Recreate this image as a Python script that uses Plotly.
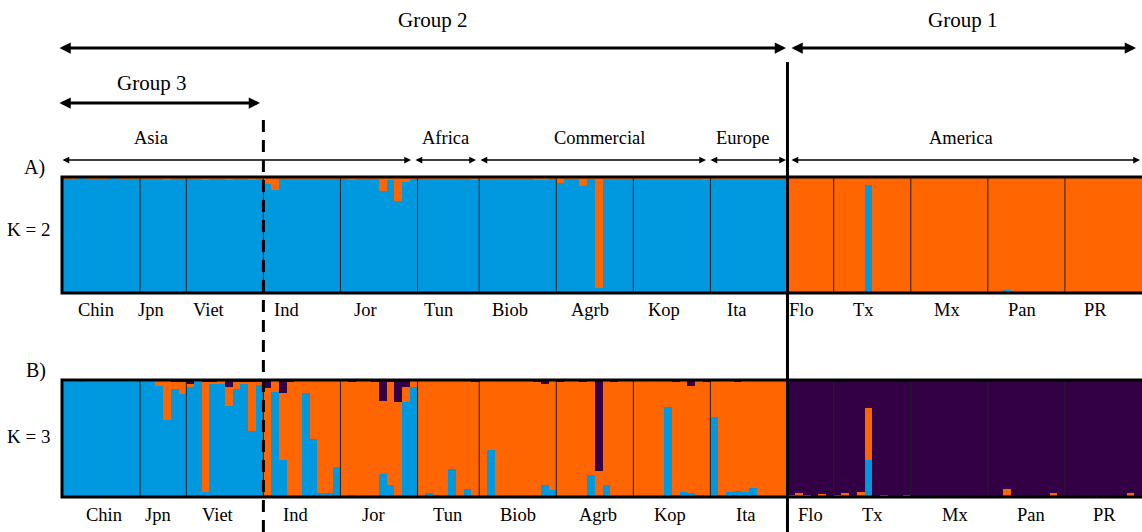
import plotly.graph_objects as go

W, H = 1142, 532

POPS = ["Chin", "Jpn", "Viet", "Ind", "Jor", "Tun", "Biob", "Agrb", "Kop", "Ita",
        "Flo", "Tx", "Mx", "Pan", "PR"]

# ---- K = 2 membership (per individual, grouped by population) ----
K2_ORANGE = [
    [0.01, 0.01, 0.00, 0.01, 0.01, 0.01, 0.00, 0.01, 0.02, 0.01],   # Chin
    [0.01, 0.01, 0.02, 0.03, 0.01, 0.02],                           # Jpn
    [0.02, 0.01, 0.03, 0.01, 0.02, 0.03, 0.01, 0.02, 0.03, 0.01],   # Viet
    [0.06, 0.11, 0.01, 0.02, 0.01, 0.01, 0.01, 0.01, 0.01, 0.01],   # Ind
    [0.01, 0.03, 0.02, 0.02, 0.01, 0.12, 0.03, 0.21, 0.04, 0.01],   # Jor
    [0.01, 0.01, 0.01, 0.01, 0.01, 0.01, 0.01, 0.03],               # Tun
    [0.01, 0.01, 0.02, 0.01, 0.01, 0.02, 0.01, 0.03, 0.03, 0.01],   # Biob
    [0.05, 0.01, 0.01, 0.08, 0.01, 0.96, 0.01, 0.02, 0.01, 0.01],   # Agrb
    [0.01, 0.02, 0.01, 0.01, 0.01, 0.01, 0.02, 0.02, 0.01, 0.03],   # Kop
    [0.01, 0.01, 0.01, 0.02, 0.01, 0.01, 0.02, 0.01, 0.01, 0.01],   # Ita
    [0.99, 0.99, 0.995, 0.99, 0.995, 0.99],                         # Flo
    [0.99, 0.985, 0.995, 0.985, 0.07, 0.995, 0.995, 0.995, 1.0, 1.0],  # Tx
    [1.0, 0.995, 1.0, 1.0, 0.995, 1.0, 0.995, 1.0, 1.0, 0.995],     # Mx
    [1.0, 0.995, 0.97, 1.0, 1.0, 0.995, 1.0, 0.995, 0.99, 1.0],     # Pan
    [1.0, 0.995, 1.0, 1.0, 0.995, 1.0, 1.0, 0.995, 0.99, 1.0],      # PR
]
K2_BLUE = [
    [0.99, 0.99, 1.00, 0.99, 0.99, 0.99, 1.00, 0.99, 0.98, 0.99],
    [0.99, 0.99, 0.98, 0.97, 0.99, 0.98],
    [0.98, 0.99, 0.97, 0.99, 0.98, 0.97, 0.99, 0.98, 0.97, 0.99],
    [0.94, 0.89, 0.99, 0.98, 0.99, 0.99, 0.99, 0.99, 0.99, 0.99],
    [0.99, 0.97, 0.98, 0.98, 0.99, 0.88, 0.97, 0.79, 0.96, 0.99],
    [0.99, 0.99, 0.99, 0.99, 0.99, 0.99, 0.99, 0.97],
    [0.99, 0.99, 0.98, 0.99, 0.99, 0.98, 0.99, 0.97, 0.97, 0.99],
    [0.95, 0.99, 0.99, 0.92, 0.99, 0.04, 0.99, 0.98, 0.99, 0.99],
    [0.99, 0.98, 0.99, 0.99, 0.99, 0.99, 0.98, 0.98, 0.99, 0.97],
    [0.99, 0.99, 0.99, 0.98, 0.99, 0.99, 0.98, 0.99, 0.99, 0.99],
    [0.01, 0.01, 0.005, 0.01, 0.005, 0.01],
    [0.01, 0.015, 0.005, 0.015, 0.93, 0.005, 0.005, 0.005, 0.0, 0.0],
    [0.0, 0.005, 0.0, 0.0, 0.005, 0.0, 0.005, 0.0, 0.0, 0.005],
    [0.0, 0.005, 0.03, 0.0, 0.0, 0.005, 0.0, 0.005, 0.01, 0.0],
    [0.0, 0.005, 0.0, 0.0, 0.005, 0.0, 0.0, 0.005, 0.01, 0.0],
]

# ---- K = 3 membership ----
K3_BLUE = [
    [0.99, 0.99, 1.00, 0.99, 0.99, 0.99, 0.99, 0.99, 0.98, 0.99],
    [0.99, 0.98, 0.95, 0.66, 0.92, 0.88],
    [0.94, 0.98, 0.04, 0.97, 0.97, 0.78, 0.92, 0.97, 0.56, 0.96],
    [0.02, 0.90, 0.32, 0.01, 0.00, 0.89, 0.50, 0.03, 0.03, 0.26],
    [0.01, 0.02, 0.00, 0.00, 0.00, 0.20, 0.10, 0.00, 0.81, 0.94],
    [0.01, 0.03, 0.02, 0.00, 0.24, 0.00, 0.07, 0.01],
    [0.00, 0.40, 0.00, 0.01, 0.01, 0.00, 0.01, 0.00, 0.10, 0.06],
    [0.01, 0.01, 0.01, 0.00, 0.19, 0.00, 0.10, 0.01, 0.01, 0.00],
    [0.00, 0.00, 0.00, 0.01, 0.77, 0.02, 0.04, 0.03, 0.02, 0.01],
    [0.68, 0.02, 0.04, 0.05, 0.04, 0.08, 0.00, 0.01, 0.00, 0.00],
    [0.015, 0.0, 0.0, 0.0, 0.0, 0.0],
    [0.01, 0.02, 0.0, 0.025, 0.32, 0.0, 0.0, 0.0, 0.0, 0.0],
    [0.0, 0.0, 0.0, 0.0, 0.01, 0.0, 0.0, 0.0, 0.0, 0.0],
    [0.0, 0.0, 0.02, 0.0, 0.0, 0.0, 0.005, 0.0, 0.02, 0.0],
    [0.0, 0.0, 0.0, 0.0, 0.0, 0.0, 0.0, 0.0, 0.0, 0.0],
]
K3_ORANGE = [
    [0.01, 0.01, 0.00, 0.01, 0.01, 0.01, 0.01, 0.01, 0.02, 0.01],
    [0.01, 0.02, 0.05, 0.34, 0.07, 0.11],
    [0.03, 0.02, 0.95, 0.01, 0.03, 0.16, 0.07, 0.01, 0.43, 0.03],
    [0.91, 0.10, 0.57, 0.98, 1.00, 0.11, 0.50, 0.97, 0.97, 0.74],
    [0.99, 0.96, 1.00, 1.00, 0.99, 0.62, 0.88, 0.81, 0.13, 0.06],
    [0.99, 0.97, 0.98, 1.00, 0.76, 1.00, 0.93, 0.98],
    [1.00, 0.60, 1.00, 0.99, 0.99, 1.00, 0.99, 0.99, 0.87, 0.94],
    [0.97, 0.99, 0.99, 0.98, 0.81, 0.22, 0.90, 0.98, 0.99, 1.00],
    [1.00, 1.00, 1.00, 0.99, 0.23, 0.97, 0.96, 0.92, 0.98, 0.97],
    [0.32, 0.98, 0.96, 0.94, 0.96, 0.92, 1.00, 0.99, 1.00, 1.00],
    [0.005, 0.03, 0.015, 0.01, 0.025, 0.01],
    [0.01, 0.015, 0.005, 0.015, 0.44, 0.01, 0.015, 0.01, 0.0, 0.015],
    [0.0, 0.01, 0.005, 0.0, 0.0, 0.005, 0.0, 0.01, 0.005, 0.0],
    [0.01, 0.005, 0.045, 0.005, 0.0, 0.01, 0.005, 0.01, 0.015, 0.01],
    [0.005, 0.0, 0.005, 0.0, 0.005, 0.0, 0.005, 0.0, 0.03, 0.0],
]
K3_DARK = [
    [0.00, 0.00, 0.00, 0.00, 0.00, 0.00, 0.00, 0.00, 0.00, 0.00],
    [0.00, 0.00, 0.00, 0.00, 0.01, 0.01],
    [0.03, 0.00, 0.01, 0.02, 0.00, 0.06, 0.01, 0.02, 0.01, 0.01],
    [0.07, 0.00, 0.11, 0.01, 0.00, 0.00, 0.00, 0.00, 0.00, 0.00],
    [0.00, 0.02, 0.00, 0.00, 0.01, 0.18, 0.02, 0.19, 0.06, 0.00],
    [0.00, 0.00, 0.00, 0.00, 0.00, 0.00, 0.00, 0.01],
    [0.00, 0.00, 0.00, 0.00, 0.00, 0.00, 0.00, 0.01, 0.03, 0.00],
    [0.02, 0.00, 0.00, 0.02, 0.00, 0.78, 0.00, 0.01, 0.00, 0.00],
    [0.00, 0.00, 0.00, 0.00, 0.00, 0.01, 0.00, 0.05, 0.00, 0.02],
    [0.00, 0.00, 0.00, 0.01, 0.00, 0.00, 0.00, 0.00, 0.00, 0.00],
    [0.98, 0.97, 0.985, 0.99, 0.975, 0.99],
    [0.98, 0.965, 0.995, 0.96, 0.24, 0.99, 0.985, 0.99, 1.0, 0.985],
    [1.0, 0.99, 0.995, 1.0, 0.99, 0.995, 1.0, 0.99, 0.995, 1.0],
    [0.99, 0.995, 0.935, 0.995, 1.0, 0.99, 0.99, 0.99, 0.965, 0.99],
    [0.995, 1.0, 0.995, 1.0, 0.995, 1.0, 0.995, 1.0, 0.97, 1.0],
]

REGIONS = ["Asia", "Africa", "Commercial", "Europe", "America"]
GROUPS = ["Group 2", "Group 1", "Group 3"]

BLUE, ORANGE, DARK = "#0098df", "#ff6500", "#330045"
FONT = "Liberation Serif"


def flat(lists):
    return [v for sub in lists for v in sub]


counts = [len(p) for p in K3_BLUE]
n = sum(counts)
idx = list(range(n))
bounds = []
c = 0
for k in counts:
    c += k
    bounds.append(c - 0.5)


def px(x):
    return x / W


def py(y):
    return 1 - y / H


fig = go.Figure()
common = dict(width=1.0, marker_line_width=0, hoverinfo="skip", showlegend=False)
fig.add_trace(go.Bar(x=idx, y=flat(K2_BLUE), marker_color=BLUE, xaxis="x", yaxis="y", **common))
fig.add_trace(go.Bar(x=idx, y=flat(K2_ORANGE), marker_color=ORANGE, xaxis="x", yaxis="y", **common))
fig.add_trace(go.Bar(x=idx, y=flat(K3_BLUE), marker_color=BLUE, xaxis="x", yaxis="y2", **common))
fig.add_trace(go.Bar(x=idx, y=flat(K3_ORANGE), marker_color=ORANGE, xaxis="x", yaxis="y2", **common))
fig.add_trace(go.Bar(x=idx, y=flat(K3_DARK), marker_color=DARK, xaxis="x", yaxis="y2", **common))

left = 63
fig.update_layout(
    width=W, height=H, margin=dict(l=0, r=0, t=0, b=0),
    paper_bgcolor="white", plot_bgcolor="white",
    barmode="stack", bargap=0,
    xaxis=dict(domain=[px(left), 1], range=[-0.5, n - 0.5], visible=False, fixedrange=True),
    yaxis=dict(domain=[py(293), py(177)], range=[0, 1], visible=False),
    yaxis2=dict(domain=[py(497), py(380)], range=[0, 1], visible=False, anchor="x"),
)

shapes = []
# population separators
for yr in ["y domain", "y2 domain"]:
    for b in bounds[:-1]:
        shapes.append(dict(type="line", xref="x", yref=yr, x0=b, x1=b, y0=0, y1=1,
                           line=dict(color="#222222", width=1)))
    shapes.append(dict(type="rect", xref="paper", yref=yr, x0=px(left - 1), x1=1.01, y0=0, y1=1,
                       line=dict(color="black", width=3)))
# group lines
shapes.append(dict(type="line", xref="x", yref="paper", x0=bounds[9], x1=bounds[9],
                   y0=0, y1=py(62), line=dict(color="black", width=3)))
shapes.append(dict(type="line", xref="x", yref="paper", x0=bounds[2], x1=bounds[2],
                   y0=0, y1=py(112), line=dict(color="black", width=3, dash="12px,8px")))
fig.update_layout(shapes=shapes)


def text(s, x, y, size=18):
    fig.add_annotation(text=s, x=px(x), y=py(y), xref="paper", yref="paper",
                       showarrow=False, font=dict(family=FONT, size=size, color="black"),
                       xanchor="center", yanchor="middle")


def arrow(x0, x1, y, width, size):
    fig.add_annotation(text="", x=px(x1), y=py(y), xref="paper", yref="paper",
                       ax=x0 - x1, ay=0, axref="pixel", ayref="pixel",
                       showarrow=True, arrowhead=2, arrowside="end+start",
                       arrowwidth=width, arrowsize=size, arrowcolor="black",
                       standoff=0, startstandoff=0)


# groups
text(GROUPS[0], 432, 20, 21)
text(GROUPS[1], 962, 20, 21)
text(GROUPS[2], 151, 83, 21)
arrow(58, 786, 48, 3, 0.75)
arrow(790, 1136, 48, 3, 0.75)
arrow(58, 260, 103, 3, 0.75)

# regions
for name, xc in zip(REGIONS, [151, 445, 599, 742, 961]):
    text(name, xc, 138, 18.5)
arrow(61, 411, 160, 1.5, 0.9)
arrow(414, 476, 160, 1.5, 0.9)
arrow(479, 706, 160, 1.5, 0.9)
arrow(709, 786, 160, 1.5, 0.9)
arrow(790, 1140, 160, 1.5, 0.9)

# panel labels
text("A)", 34, 167, 20)
text("B)", 36, 370, 20)
text("K = 2", 28, 230, 19)
text("K = 3", 28, 436, 19)

# population labels
K2_LX = [96, 150.5, 209, 286, 365, 438, 509.5, 590, 664, 737, 801, 863.5, 946.5, 1022, 1095.5]
K3_LX = [103.7, 158, 218, 295, 373, 447.7, 518, 598, 670, 745.5, 810, 872.5, 955, 1030.5, 1104]
for name, xa, xb in zip(POPS, K2_LX, K3_LX):
    text(name, xa, 310, 18.5)
    text(name, xb, 515, 18.5)

fig.write_html("out.html")
